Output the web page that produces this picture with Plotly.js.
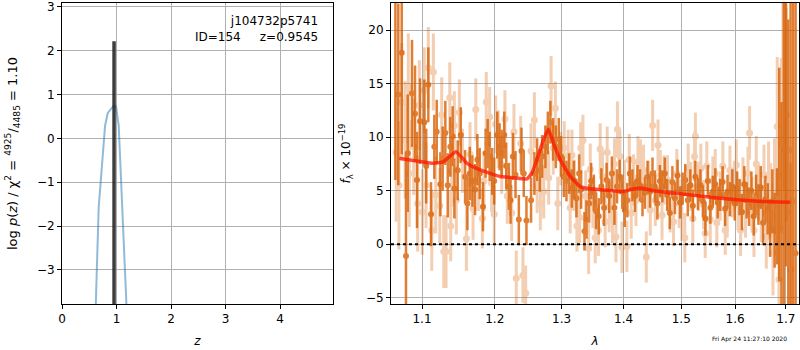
<!DOCTYPE html>
<html>
<head>
<meta charset="utf-8">
<script src="https://cdn.plot.ly/plotly-3.0.1.min.js"></script>
<style>html,body{margin:0;padding:0;background:#fff;}#chart{width:800px;height:350px;}</style>
</head>
<body>
<div id="chart"></div>
<script>
// ---- Left panel: redshift probability ----
const pzZ   = [0.60, 0.623, 0.673, 0.79, 0.84, 0.944, 0.99, 1.04, 1.087, 1.18, 1.20];
const pzLog = [-4.6, -3.74, -1.57, 0.29, 0.58, 0.74, 0.73, 0.29, -0.96, -3.74, -4.4];
const zBest = 0.9545;
const zBestPeak = 2.22;
const zAxisFloor = -10;
const zTicks = [0, 1, 2, 3, 4];
const pzTicks = [-3, -2, -1, 0, 1, 2, 3];

// ---- Right panel: spectrum, darker orientation ----
const darkLam = [1.0655,1.0692,1.0736,1.0791,1.0813,1.0869,1.0908,1.0934,1.0974,1.1030,1.1055,1.1083,1.1119,1.1163,1.1195,1.1244,1.1275,1.1311,1.1344,1.1379,1.1410,1.1434,1.1480,
1.1522,1.1582,1.1614,1.1647,1.1683,1.1721,1.1753,1.1786,1.1832,1.1870,1.1899,1.1927,1.1964,1.1992,1.2036,1.2070,1.2099,1.2137,1.2166,1.2205,1.2229,1.2263,1.2302,1.2351,1.2390,1.2424,1.2464,
1.2533,1.2583,1.2624,1.2665,1.2700,1.2750,1.2787,1.2826,1.2868,1.2910,1.2956,1.2992,1.3034,1.3075,1.3117,1.3160,1.3191,1.3232,1.3275,1.3307,1.3360,1.3392,1.3435,1.3467,1.3511,1.3548,
1.3590,1.3633,1.3676,1.3719,1.3762,1.3805,1.3848,1.3891,1.3934,1.3977,1.4020,1.4063,1.4106,1.4149,1.4192,1.4235,1.4278,1.4321,1.4364,1.4407,1.4450,1.4493,1.4536,1.4579,1.4622,1.4665,1.4708,
1.4750,1.4796,1.4842,1.4888,1.4934,1.4980,1.5026,1.5072,1.5118,1.5164,1.5210,1.5256,1.5302,1.5348,1.5394,1.5440,1.5486,1.5532,1.5578,1.5624,1.5670,1.5716,1.5762,1.5808,1.5854,1.5900,1.5946,
1.5992,1.6038,1.6084,1.6130,1.6176,1.6222,1.6268,1.6314,1.6360,1.6406,1.6452,1.6498,1.6544,1.6590,1.6636,1.6682,1.6728,1.6774,1.6820,1.6866,1.6912,1.6958,1.7004,1.7050,1.7097,1.7150,1.7200];
const darkFlux = [24.0,14.0,17.9,-1.1,8.5,14.1,12.2,6.0,11.5,11.4,7.3,14.9,2.8,9.1,10.5,5.6,8.0,10.4,5.5,9.1,10.1,5.2,6.9,
10.2,6.3,3.8,6.6,5.9,5.1,7.9,6.6,3.5,8.5,9.4,8.2,6.8,5.9,10.2,9.1,8.5,10.2,7.3,5.4,4.1,8.2,6.5,2.3,8.7,6.6,2.2,
4.1,6.6,7.9,6.9,8.2,9.1,10.4,11.4,9.8,9.1,9.8,8.2,6.3,5.9,6.6,5.2,6.0,4.3,6.6,5.1,1.2,2.3,3.8,5.9,4.8,3.1,
2.6,5.4,3.4,6.0,4.5,6.6,3.4,5.4,6.3,4.9,3.2,4.1,6.6,5.5,4.5,5.9,5.5,4.1,4.8,6.3,4.9,6.6,5.4,3.8,5.9,5.4,6.6,
4.6,2.9,5.8,4.3,6.4,3.9,5.2,6.0,4.1,5.5,3.6,6.3,4.7,5.5,4.0,2.4,5.9,3.4,4.9,5.6,3.9,4.6,5.8,3.3,4.9,4.2,5.4,
3.8,5.2,4.4,3.0,5.6,4.1,3.5,5.0,2.6,4.6,3.7,5.3,2.0,4.2,3.3,1.5,4.0,1.3,2.6,6.5,1.3,8.8,19.9,3.0,8.8,4.0,-0.85];
const darkErr = [18,8.5,9.5,9.5,5.5,5.0,4.5,4.5,4.0,4.0,3.5,3.5,3.0,3.0,3.0,3.0,3.0,3.0,3.0,2.8,2.8,2.8,2.8,
2.6,2.5,2.5,2.5,2.4,2.4,2.4,2.4,2.3,2.3,2.3,2.3,2.2,2.2,2.2,2.2,2.2,2.2,2.2,2.2,2.2,2.2,2.2,2.3,2.2,2.2,2.3,
2.1,2.0,2.0,2.0,2.0,2.0,2.0,2.0,2.0,2.0,2.0,1.9,1.9,1.9,1.9,1.8,1.8,1.8,1.8,1.8,1.8,1.8,1.8,1.7,1.7,1.7,
1.7,1.7,1.7,1.6,1.6,1.6,1.6,1.6,1.6,1.6,1.6,1.6,1.6,1.5,1.5,1.5,1.5,1.5,1.5,1.5,1.5,1.5,1.5,1.5,1.5,1.5,1.5,
1.5,1.5,1.5,1.5,1.5,1.5,1.5,1.5,1.5,1.5,1.5,1.5,1.5,1.5,1.5,1.6,1.5,1.5,1.5,1.5,1.5,1.5,1.5,1.6,1.6,1.6,1.6,
1.6,1.6,1.7,1.7,1.7,1.7,1.8,1.8,1.8,1.9,1.9,2.0,2.1,2.2,2.4,2.7,3.0,3.5,4.5,10,12,16,22,18,20,22,25];

// ---- Right panel: spectrum, lighter orientation ----
const lightLam = [1.0665,1.0700,1.0736,1.0780,1.0821,1.0834,1.0891,1.0943,1.0964,1.1004,1.1030,1.1053,1.1083,1.1129,1.1150,1.1182,1.1236,1.1262,1.1290,1.1321,1.1371,1.1384,1.1398,1.1434,1.1461,1.1503,
1.1545,1.1600,1.1650,1.1693,1.1731,1.1767,1.1823,1.1846,1.1879,1.1927,1.1955,1.1992,1.2013,1.2050,1.2100,1.2147,1.2181,1.2245,1.2279,1.2313,1.2378,1.2412,1.2452,
1.2533,1.2583,1.2624,1.2673,1.2724,1.2760,1.2800,1.2837,1.2870,1.2903,1.2940,1.2985,1.3040,1.3103,1.3134,1.3161,1.3200,1.3240,1.3282,1.3300,1.3336,1.3380,1.3427,1.3453,1.3495,1.3533,
1.3586,1.3614,1.3651,1.3695,1.3728,1.3761,1.3816,1.3849,1.3873,1.3898,1.3939,1.3972,1.4016,1.4056,1.4095,1.4129,1.4168,1.4209,1.4243,1.4287,1.4339,1.4386,1.4426,1.4455,1.4495,1.4542,1.4589,1.4629,1.4659,1.4696,
1.4755,1.4803,1.4862,1.4921,1.4963,1.5010,1.5064,1.5126,1.5173,1.5209,1.5241,1.5256,1.5314,1.5356,1.5406,1.5437,1.5466,1.5530,1.5578,1.5623,1.5653,1.5717,1.5766,1.5811,1.5848,1.5900,1.5944,
1.5985,1.6021,1.6053,1.6104,1.6150,1.6200,1.6247,1.6278,1.6325,1.6364,1.6409,1.6454,1.6508,1.6561,1.6607,1.6652,1.6692,1.6740,1.6772,1.6826,1.6861,1.6908,1.6942,1.6974,1.7009,1.7097];
const lightFlux = [8.6,5.5,13.3,9.75,14.7,6.6,9.1,3.8,13.0,3.0,14.4,5.5,16.5,1.3,16.1,4.6,3.6,12.1,-0.7,-0.7,13.7,1.7,6.8,11.1,4.1,12.3,
7.8,0.5,8.4,3.3,12.6,6.0,2.4,5.9,13.3,11.9,5.7,2.8,11.2,9.8,7.4,11.7,4.5,2.9,10.5,-3.2,9.4,-2.9,-4.6,
8.7,11.6,5.4,3.8,4.9,8.5,6.2,14.8,9.0,12.7,3.8,8.0,9.0,8.3,3.4,8.3,5.5,1.7,2.5,9.0,9.7,4.5,-0.4,7.0,3.9,0.6,
1.3,8.9,6.3,2.1,8.6,3.5,2.5,7.5,0.7,10.75,8.2,-0.3,5.5,-0.2,7.9,2.9,6.0,4.1,7.7,7.4,6.9,-1.2,5.4,3.2,11.1,4.1,9.25,6.5,2.7,6.0,
6.0,3.4,2.1,6.6,3.8,2.6,0.6,7.1,5.4,2.4,8.2,10.1,5.4,7.1,3.7,1.0,7.3,2.3,5.9,6.6,2.0,4.5,7.3,1.3,2.9,6.9,4.8,
5.5,7.4,3.7,1.3,5.7,3.0,6.6,10.4,3.8,1.3,7.5,4.8,2.9,6.5,0.7,6.4,4.1,-0.8,5.4,11.0,-3.3,9.4,14.4,15.1,12.1,-2.4];
const lightErr = [6.5,6.0,5.5,5.5,5.0,5.0,4.5,4.5,4.2,4.0,4.0,4.0,3.8,3.8,3.6,3.6,3.5,3.5,3.4,3.4,3.3,3.3,3.3,3.2,3.2,3.1,
3.0,3.0,3.0,2.9,2.9,2.9,2.8,2.8,2.8,2.8,2.7,2.7,2.7,2.7,2.7,2.7,2.6,2.6,2.6,2.6,2.6,2.6,2.6,
2.6,2.6,2.5,2.5,2.5,2.5,2.5,2.8,2.5,2.5,2.5,2.5,2.5,2.4,2.4,2.4,2.4,2.4,2.4,2.4,2.4,2.4,2.4,2.4,2.4,2.4,
2.4,2.4,2.4,2.4,2.4,2.4,2.4,2.4,2.4,2.6,2.4,2.4,2.4,2.4,2.4,2.4,2.4,2.4,2.4,2.4,2.4,2.4,2.4,2.4,2.4,2.4,2.4,2.3,2.3,2.3,
2.3,2.3,2.3,2.3,2.3,2.3,2.3,2.3,2.3,2.3,2.3,2.2,2.3,2.3,2.3,2.3,2.3,2.3,2.3,2.3,2.3,2.3,2.3,2.3,2.3,2.3,2.3,
2.3,2.4,2.4,2.4,2.4,2.4,2.5,2.5,2.5,2.5,2.6,2.6,2.7,2.8,3.0,3.2,3.5,4.0,4.5,6.5,7.0,8.0,9.0,10.0,10.0,10.0];

// ---- Right panel: model ----
const modelLam  = [1.0705,1.1150,1.1283,1.1457,1.1605,1.1791,1.2077,1.2271,1.2469,1.2544,1.2619,1.2720,1.2796,1.2873,1.2980,1.3136,1.3294,1.3454,1.3668,1.4000,1.4140,1.4282,1.4397,1.4512,1.4998,1.5530,1.6030,1.6553,1.7090];
const modelFlux = [8.04,7.57,7.70,8.65,7.57,6.94,6.32,6.22,6.10,6.63,7.88,9.75,10.75,9.44,7.88,6.32,5.38,5.17,5.07,4.92,5.14,5.23,5.14,5.00,4.70,4.39,4.14,3.98,3.92];
const zeroLevel = 0;
const lamTicks = [1.1, 1.2, 1.3, 1.4, 1.5, 1.6, 1.7];
const lamTickText = ["1.1", "1.2", "1.3", "1.4", "1.5", "1.6", "1.7"];
const fluxTicks = [-5, 0, 5, 10, 15, 20];

const ORANGE = '#d95f02';
const FONT = 'DejaVu Sans, sans-serif';

const traces = [
  {x: pzZ, y: pzLog, xaxis: 'x', yaxis: 'y', mode: 'lines', type: 'scatter',
   line: {color: 'rgba(31,119,180,0.5)', width: 2}, hoverinfo: 'skip'},
  {x: [zBest, zBest], y: [zAxisFloor, zBestPeak], xaxis: 'x', yaxis: 'y', mode: 'lines', type: 'scatter',
   line: {color: 'rgba(40,40,40,0.9)', width: 3.5}, hoverinfo: 'skip'},
  {x: darkLam, y: darkFlux, xaxis: 'x2', yaxis: 'y2', mode: 'markers', type: 'scatter',
   marker: {color: ORANGE, size: 6}, opacity: 0.8,
   error_y: {type: 'data', array: darkErr, visible: true, thickness: 2.5, width: 0, color: ORANGE}},
  {x: lightLam, y: lightFlux, xaxis: 'x2', yaxis: 'y2', mode: 'markers', type: 'scatter',
   marker: {color: ORANGE, size: 7}, opacity: 0.3,
   error_y: {type: 'data', array: lightErr, visible: true, thickness: 3, width: 0, color: ORANGE}},
  {x: modelLam, y: modelFlux, xaxis: 'x2', yaxis: 'y2', mode: 'lines', type: 'scatter',
   line: {color: 'rgba(255,20,0,0.75)', width: 3.5, shape: 'spline', smoothing: 0.4}}
];

const axisBase = {
  showline: true, linecolor: '#000', linewidth: 1, mirror: true,
  ticks: 'outside', ticklen: 4, tickwidth: 1, tickcolor: '#000',
  showgrid: true, gridcolor: '#b0b0b0', gridwidth: 1, zeroline: false,
  tickfont: {family: FONT, size: 12, color: '#000'}, automargin: false
};

const layout = {
  width: 800, height: 350,
  margin: {l: 0, r: 0, t: 0, b: 0},
  paper_bgcolor: '#fff', plot_bgcolor: '#fff',
  showlegend: false,
  font: {family: FONT, size: 12, color: '#000'},
  xaxis: Object.assign({}, axisBase, {
    domain: [0.0775, 0.41625], range: [0, 4.97], tickvals: zTicks, anchor: 'y',
    title: {text: '<i>z</i>', font: {family: FONT, size: 12}, standoff: 11}
  }),
  yaxis: Object.assign({}, axisBase, {
    domain: [0.1314, 0.9914], range: [-3.78, 3.09], tickvals: pzTicks, anchor: 'x',
    title: {text: 'log <i>p</i>(<i>z</i>) / χ<sup>2</sup> = <sup>4925</sup>/<sub>4485</sub> = 1.10', font: {family: FONT, size: 13}, standoff: 16}
  }),
  xaxis2: Object.assign({}, axisBase, {
    domain: [0.48875, 0.99875], type: 'log', range: [0.02527, 0.23729],
    tickvals: lamTicks, ticktext: lamTickText, anchor: 'y2',
    title: {text: '<i>λ</i>', font: {family: FONT, size: 12}, standoff: 11}
  }),
  yaxis2: Object.assign({}, axisBase, {
    domain: [0.1314, 0.9914], range: [-5.6, 22.55], tickvals: fluxTicks, anchor: 'x2',
    title: {text: '<i>f</i><sub>λ</sub> × 10<sup>−19</sup>', font: {family: FONT, size: 12}, standoff: 12}
  }),
  shapes: [
    {type: 'line', xref: 'x2 domain', yref: 'y2', x0: 0, x1: 1, y0: zeroLevel, y1: zeroLevel,
     line: {color: '#000', width: 2, dash: 'dot'}, layer: 'above'}
  ],
  annotations: [
    {xref: 'paper', yref: 'paper', x: 0.4, y: 0.965, xanchor: 'right', yanchor: 'top', align: 'right',
     showarrow: false, text: 'j104732p5741<br>ID=154\u00a0\u00a0\u00a0\u00a0\u00a0z=0.9545',
     font: {family: FONT, size: 12, color: '#000'}},
    {xref: 'paper', yref: 'paper', x: 0.98625, y: 0.031, xanchor: 'right', yanchor: 'middle',
     showarrow: false, text: 'Fri Apr 24 11:27:10 2020', font: {family: FONT, size: 6, color: '#000'}}
  ]
};

Plotly.newPlot('chart', traces, layout, {displayModeBar: false, staticPlot: true});
</script>
</body>
</html>
